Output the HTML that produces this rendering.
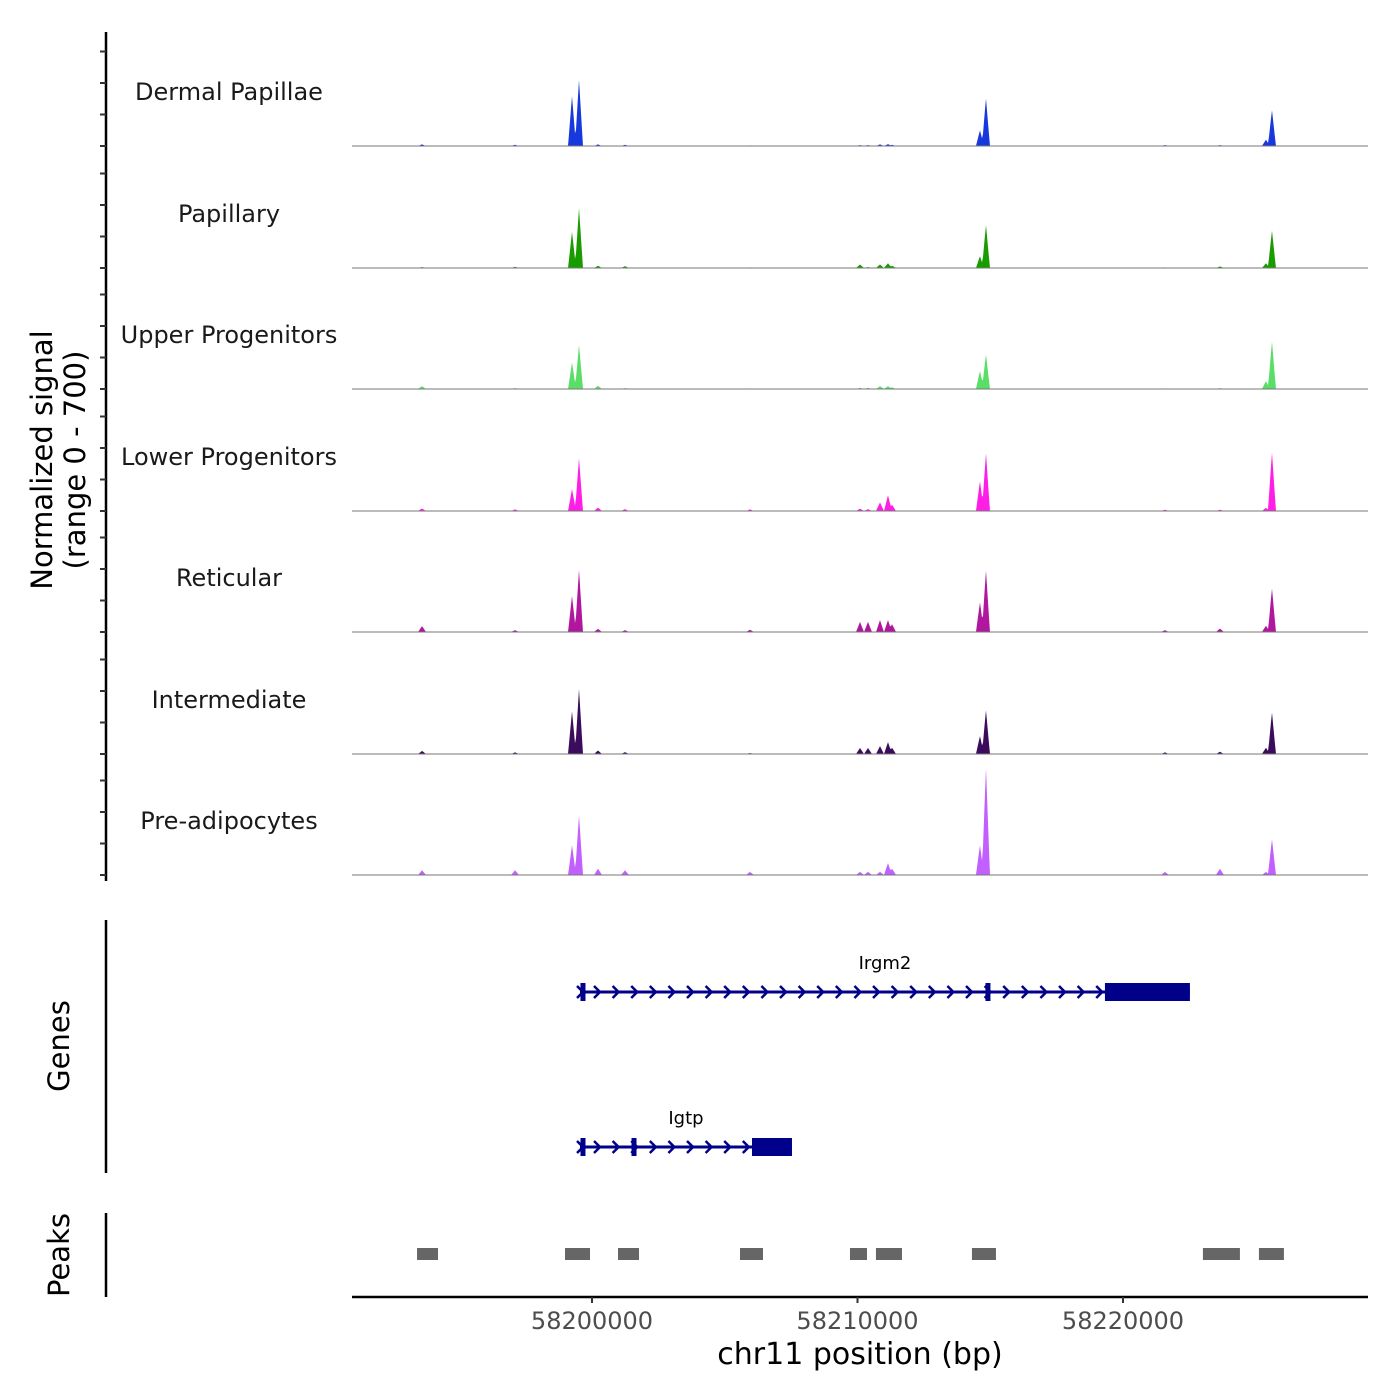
<!DOCTYPE html>
<html><head><meta charset="utf-8">
<style>
html,body{margin:0;padding:0;background:#fff;}
svg{display:block;font-family:"DejaVu Sans","Liberation Sans",sans-serif;}
</style></head>
<body>
<svg id="chart" width="1400" height="1400" viewBox="0 0 1400 1400">
</svg>
<script>
// ---- data ----
const trackNames = ["Dermal Papillae","Papillary","Upper Progenitors","Lower Progenitors","Reticular","Intermediate","Pre-adipocytes"];
const trackColors = ["#1638dc","#199c00","#5ade68","#ff1ee6","#b0179e","#3b0b5c","#c260ff"];
// peak centers (bp) shared across tracks
const peakCenters = [58193598,58197100,58199247,58199510,58200226,58201243,58205950,58210094,58210395,58210847,58211148,58211300,58214612,58214838,58221580,58223651,58225384,58225610];
// heights per track (signal units, 0-700) aligned with peakCenters
const sigDP  = [10,8,318,420,10,8,4,6,6,10,12,8,100,305,6,6,40,230];
const sigPap = [6,8,230,380,14,12,4,22,6,22,30,14,76,275,4,10,30,240];
const sigUP  = [18,6,170,280,20,6,4,8,8,18,18,10,115,222,4,6,50,305];
const sigLP  = [16,10,140,335,22,12,10,14,12,55,100,40,190,370,8,8,20,375];
const sigRet = [38,12,230,395,20,12,14,64,64,76,76,50,190,395,12,22,40,280];
const sigInt = [20,10,273,413,22,12,6,38,38,50,76,40,115,280,10,14,40,267];
const sigPre = [30,30,190,380,40,30,20,20,20,20,76,40,190,686,20,40,20,230];
const trackSignals = [sigDP,sigPap,sigUP,sigLP,sigRet,sigInt,sigPre];
const peakHalfWidthBp = 150;
// genes
const geneNames = ["Irgm2","Igtp"];
const geneStarts = [58199548,58199548];
const geneEnds = [58222521,58207532];
const geneThickStarts = [58219320,58206026];
const geneExonMarks = [[58199660,58214913],[58199660,58201582]];
// called peaks
const peakStarts = [58193410,58198983,58200979,58205574,58209716,58210695,58214311,58223010,58225120];
const peakEnds   = [58194200,58199925,58201770,58206440,58210357,58211675,58215215,58224404,58226061];
const xTicks = [58200000,58210000,58220000];

// ---- scales ----
const X0=352, X1=1368, BP0=58190960, BP1=58229228;
const xs = bp => X0 + (bp-BP0)/(BP1-BP0)*(X1-X0);
const baselines=[146,268,389,511,632,754,875];
const ys = v => v*0.1575;
const NS="http://www.w3.org/2000/svg";
const svg=document.getElementById('chart');
function mk(tag,attrs,parent){const e=document.createElementNS(NS,tag);for(const k in attrs)e.setAttribute(k,attrs[k]);(parent||svg).appendChild(e);return e;}

// left axis
let ax=mk('line',{x1:106,y1:32,x2:106,y2:881,stroke:'#000','stroke-width':2.5});


baselines.forEach(b=>{[0,200,400,600].forEach(v=>{
  const t=mk('line',{x1:100,x2:106,y1:b-ys(v),y2:b-ys(v),stroke:'#333','stroke-width':2});
  
  
});});

// tracks
trackNames.forEach((name,i)=>{
  const b=baselines[i], sig=trackSignals[i];
  const g=mk('g',{});
  
  
  let pts=[];
  for(let px=X0;px<=X1;px+=1){
    const bp=BP0+(px-X0)/(X1-X0)*(BP1-BP0);
    let v=0;
    peakCenters.forEach((c,j)=>{const d=Math.abs(bp-c);if(d<peakHalfWidthBp){const h=sig[j]*(1-d/peakHalfWidthBp);if(h>v)v=h;}});
    pts.push(px+','+(b-ys(v)).toFixed(1));
  }
  const area=mk('polygon',{points:X0+','+b+' '+pts.join(' ')+' '+X1+','+b,fill:trackColors[i]},g);
  
  
  const bl=mk('line',{x1:X0,x2:X1,y1:b,y2:b,stroke:'#777','stroke-width':1},g);
  
  
  const lab=mk('text',{x:229,y:b-46,'text-anchor':'middle','font-size':24,fill:'#1a1a1a'},g);
  lab.textContent=name;
  
  
});

// y title
const yt=mk('text',{transform:'translate(52,460) rotate(-90)','text-anchor':'middle','font-size':29,fill:'#000'});


const t1=mk('tspan',{x:0,dy:0},yt);t1.textContent='Normalized signal';
const t2=mk('tspan',{x:0,dy:33},yt);t2.textContent='(range 0 - 700)';

// genes
let gl=mk('line',{x1:106,y1:920,x2:106,y2:1173,stroke:'#000','stroke-width':2.5});


const gt=mk('text',{transform:'translate(69,1046) rotate(-90)','text-anchor':'middle','font-size':29});
gt.textContent='Genes';


const geneY=[992,1147];
geneNames.forEach((n,i)=>{
  const y=geneY[i], g=mk('g',{});
  
  
  const x0=xs(geneStarts[i]), x1=xs(geneEnds[i]), xt=xs(geneThickStarts[i]);
  mk('line',{x1:x0,x2:x1,y1:y,y2:y,stroke:'#00008b','stroke-width':3},g);
  for(let cx=x0+18;cx<xt-4;cx+=18.6){
    mk('polyline',{points:(cx-4)+','+(y-6)+' '+(cx+2)+','+y+' '+(cx-4)+','+(y+6),fill:'none',stroke:'#00008b','stroke-width':2.5},g);
  }
  mk('polyline',{points:(x0-3)+','+(y-6)+' '+(x0+3)+','+y+' '+(x0-3)+','+(y+6),fill:'none',stroke:'#00008b','stroke-width':2.5},g);
  mk('rect',{x:xt,y:y-9,width:x1-xt,height:18,fill:'#00008b'},g);
  geneExonMarks[i].forEach(m=>mk('rect',{x:xs(m)-2.5,y:y-9,width:5,height:18,fill:'#00008b'},g));
  const lt=mk('text',{x:(x0+x1)/2,y:y-23,'text-anchor':'middle','font-size':18,fill:'#000'},g);
  lt.textContent=n;
  
  
});

// peaks
let pl=mk('line',{x1:106,y1:1213,x2:106,y2:1297,stroke:'#000','stroke-width':2.5});


const pt=mk('text',{transform:'translate(69,1255) rotate(-90)','text-anchor':'middle','font-size':29});
pt.textContent='Peaks';


peakStarts.forEach((s,i)=>{
  const r=mk('rect',{x:xs(s),y:1248,width:xs(peakEnds[i])-xs(s),height:12,fill:'#666'});
  
  
});

// x axis
const xa=mk('line',{x1:X0,x2:X1,y1:1297,y2:1297,stroke:'#000','stroke-width':2.5});


xTicks.forEach(v=>{
  const x=xs(v);
  const tk=mk('line',{x1:x,x2:x,y1:1297,y2:1303,stroke:'#333','stroke-width':2});
  
  
  const tl=mk('text',{x:x,y:1329,'text-anchor':'middle','font-size':24,fill:'#4d4d4d'});
  tl.textContent=String(v);
  
  
});
const xt=mk('text',{x:860,y:1364,'text-anchor':'middle','font-size':30,fill:'#000'});
xt.textContent='chr11 position (bp)';


</script>
</body></html>
